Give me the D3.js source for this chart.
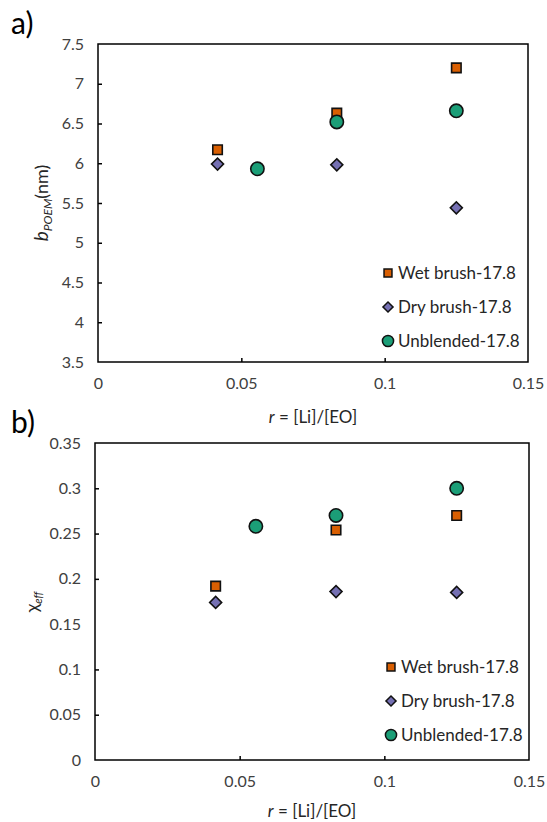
<!DOCTYPE html>
<html>
<head>
<style>
    body { margin: 0; background: #fff; }
    text { font-family: Lato, "Open Sans", sans-serif; }
    .tick text { font-size: 16px; fill: #404040; font-family: Lato, sans-serif; }
    .lab { font-size: 17px; fill: #262626; }
    .leg { font-size: 17px; fill: #262626; }
    .panel { font-size: 30px; fill: #000; }
</style>
<script src="https://d3js.org/d3.v7.min.js"></script>
</head>
<body>
<script>
// series data
const series = ["Wet brush-17.8", "Dry brush-17.8", "Unblended-17.8"];
const wetR = [0.0417, 0.0833, 0.125];
const dryR = [0.0417, 0.0833, 0.125];
const unbR = [0.0556, 0.0833, 0.125];

const wetB = [6.17, 6.63, 7.2];
const dryB = [5.99, 5.98, 5.44];
const unbB = [5.93, 6.52, 6.66];

const wetChi = [0.192, 0.254, 0.270];
const dryChi = [0.174, 0.186, 0.185];
const unbChi = [0.258, 0.270, 0.300];

const xTicks = [0, 0.05, 0.1, 0.15];
const bTicks = [3.5, 4, 4.5, 5, 5.5, 6, 6.5, 7, 7.5];
const chiTicks = [0, 0.05, 0.1, 0.15, 0.2, 0.25, 0.3, 0.35];

const colors = ["#d95f02", "#7570b3", "#1b9e77"];
const shapes = [d3.symbolSquare, d3.symbolSquare, d3.symbolCircle];
const rot = [0, 45, 0];
const sizes = [90, 72, 140];

const svg = d3.select("body").append("svg")
    .attr("width", 547).attr("height", 822);

function panel(cfg) {
    const x = d3.scaleLinear().domain([0, 0.15]).range([cfg.left, cfg.right]);
    const y = d3.scaleLinear().domain(cfg.ydom).range([cfg.bottom, cfg.top]);
    const g = svg.append("g");

    g.append("g").attr("transform", "translate(0," + cfg.bottom + ")")
        .call(d3.axisBottom(x).tickValues(xTicks).tickSizeInner(-4).tickSizeOuter(0).tickPadding(16)
            .tickFormat(d => d3.format("")(d)))
        .call(a => a.select(".domain").remove());
    g.append("g").attr("transform", "translate(" + cfg.left + ",0)")
        .call(d3.axisLeft(y).tickValues(cfg.yticks).tickSizeInner(-4).tickSizeOuter(0).tickPadding(14)
            .tickFormat(d => d3.format("")(d)))
        .call(a => a.select(".domain").remove());
    g.selectAll(".tick line").attr("stroke", "#000").attr("stroke-width", 1.5);
    g.selectAll(".tick text").attr("font-family", "Lato");
    g.selectAll(".tick").filter(d => d === 0 || d === 0.15 || d === cfg.ydom[1] || (cfg.ydom[0] !== 0 && d === cfg.ydom[0]))
        .select("line").remove();

    g.append("rect")
        .attr("x", cfg.left).attr("y", cfg.top)
        .attr("width", cfg.right - cfg.left).attr("height", cfg.bottom - cfg.top)
        .attr("fill", "none").attr("stroke", "#000").attr("stroke-width", 1.5);

    const data = [
        cfg.xs[0].map((r, i) => ({ s: 0, r: r, v: cfg.ys[0][i] })),
        cfg.xs[1].map((r, i) => ({ s: 1, r: r, v: cfg.ys[1][i] })),
        cfg.xs[2].map((r, i) => ({ s: 2, r: r, v: cfg.ys[2][i] }))
    ];
    [1, 0, 2].forEach(s => {
        g.selectAll(null).data(data[s]).enter().append("path")
            .attr("d", d3.symbol().type(shapes[s]).size(sizes[s]))
            .attr("transform", d => "translate(" + x(d.r) + "," + y(d.v) + ") rotate(" + rot[s] + ")")
            .attr("fill", colors[s]).attr("stroke", "#111").attr("stroke-width", 1.6);
    });

    // legend
    series.forEach((name, i) => {
        const ly = cfg.legY + i * 34;
        g.append("path")
            .attr("d", d3.symbol().type(shapes[i]).size(sizes[i] * 0.7))
            .attr("transform", "translate(" + cfg.legX + "," + ly + ") rotate(" + rot[i] + ")")
            .attr("fill", colors[i]).attr("stroke", "#111").attr("stroke-width", 1.5);
        g.append("text").attr("class", "leg")
            .attr("x", cfg.legX + 10).attr("y", ly + 6).text(name);
    });

    // x label
    const xl = g.append("text").attr("class", "lab")
        .attr("x", (cfg.left + cfg.right) / 2).attr("y", cfg.xlabY)
        .attr("text-anchor", "middle");
    xl.append("tspan").attr("font-style", "italic").text("r");
    xl.append("tspan").text(" = [Li]/[EO]");

    g.append("text").attr("class", "panel")
        .attr("x", 11).attr("y", cfg.top - 10).text(cfg.panel);
    return g;
}

const ga = panel({
    left: 98, right: 528, top: 44, bottom: 362,
    ydom: [3.5, 7.5], yticks: bTicks,
    xs: [wetR, dryR, unbR], ys: [wetB, dryB, unbB],
    legX: 388, legY: 273, xlabY: 423, panel: "a)"
});
const yla = ga.append("text").attr("class", "lab")
    .attr("transform", "translate(48,203) rotate(-90)").attr("text-anchor", "middle");
yla.append("tspan").attr("font-style", "italic").attr("font-size", 19).text("b");
yla.append("tspan").attr("font-style", "italic").attr("font-size", 12).attr("dy", 4).text("POEM");
yla.append("tspan").attr("dy", -4).attr("font-size", 18).text("(nm)");

const gb = panel({
    left: 95, right: 529, top: 443, bottom: 760,
    ydom: [0, 0.35], yticks: chiTicks,
    xs: [wetR, dryR, unbR], ys: [wetChi, dryChi, unbChi],
    legX: 391, legY: 667, xlabY: 817, panel: "b)"
});
const ylb = gb.append("text").attr("class", "lab")
    .attr("transform", "translate(38,602) rotate(-90)").attr("text-anchor", "middle");
ylb.append("tspan").attr("font-size", 18).text("χ");
ylb.append("tspan").attr("font-style", "italic").attr("font-size", 11).attr("dy", 4).text("eff");
</script>
</body>
</html>
